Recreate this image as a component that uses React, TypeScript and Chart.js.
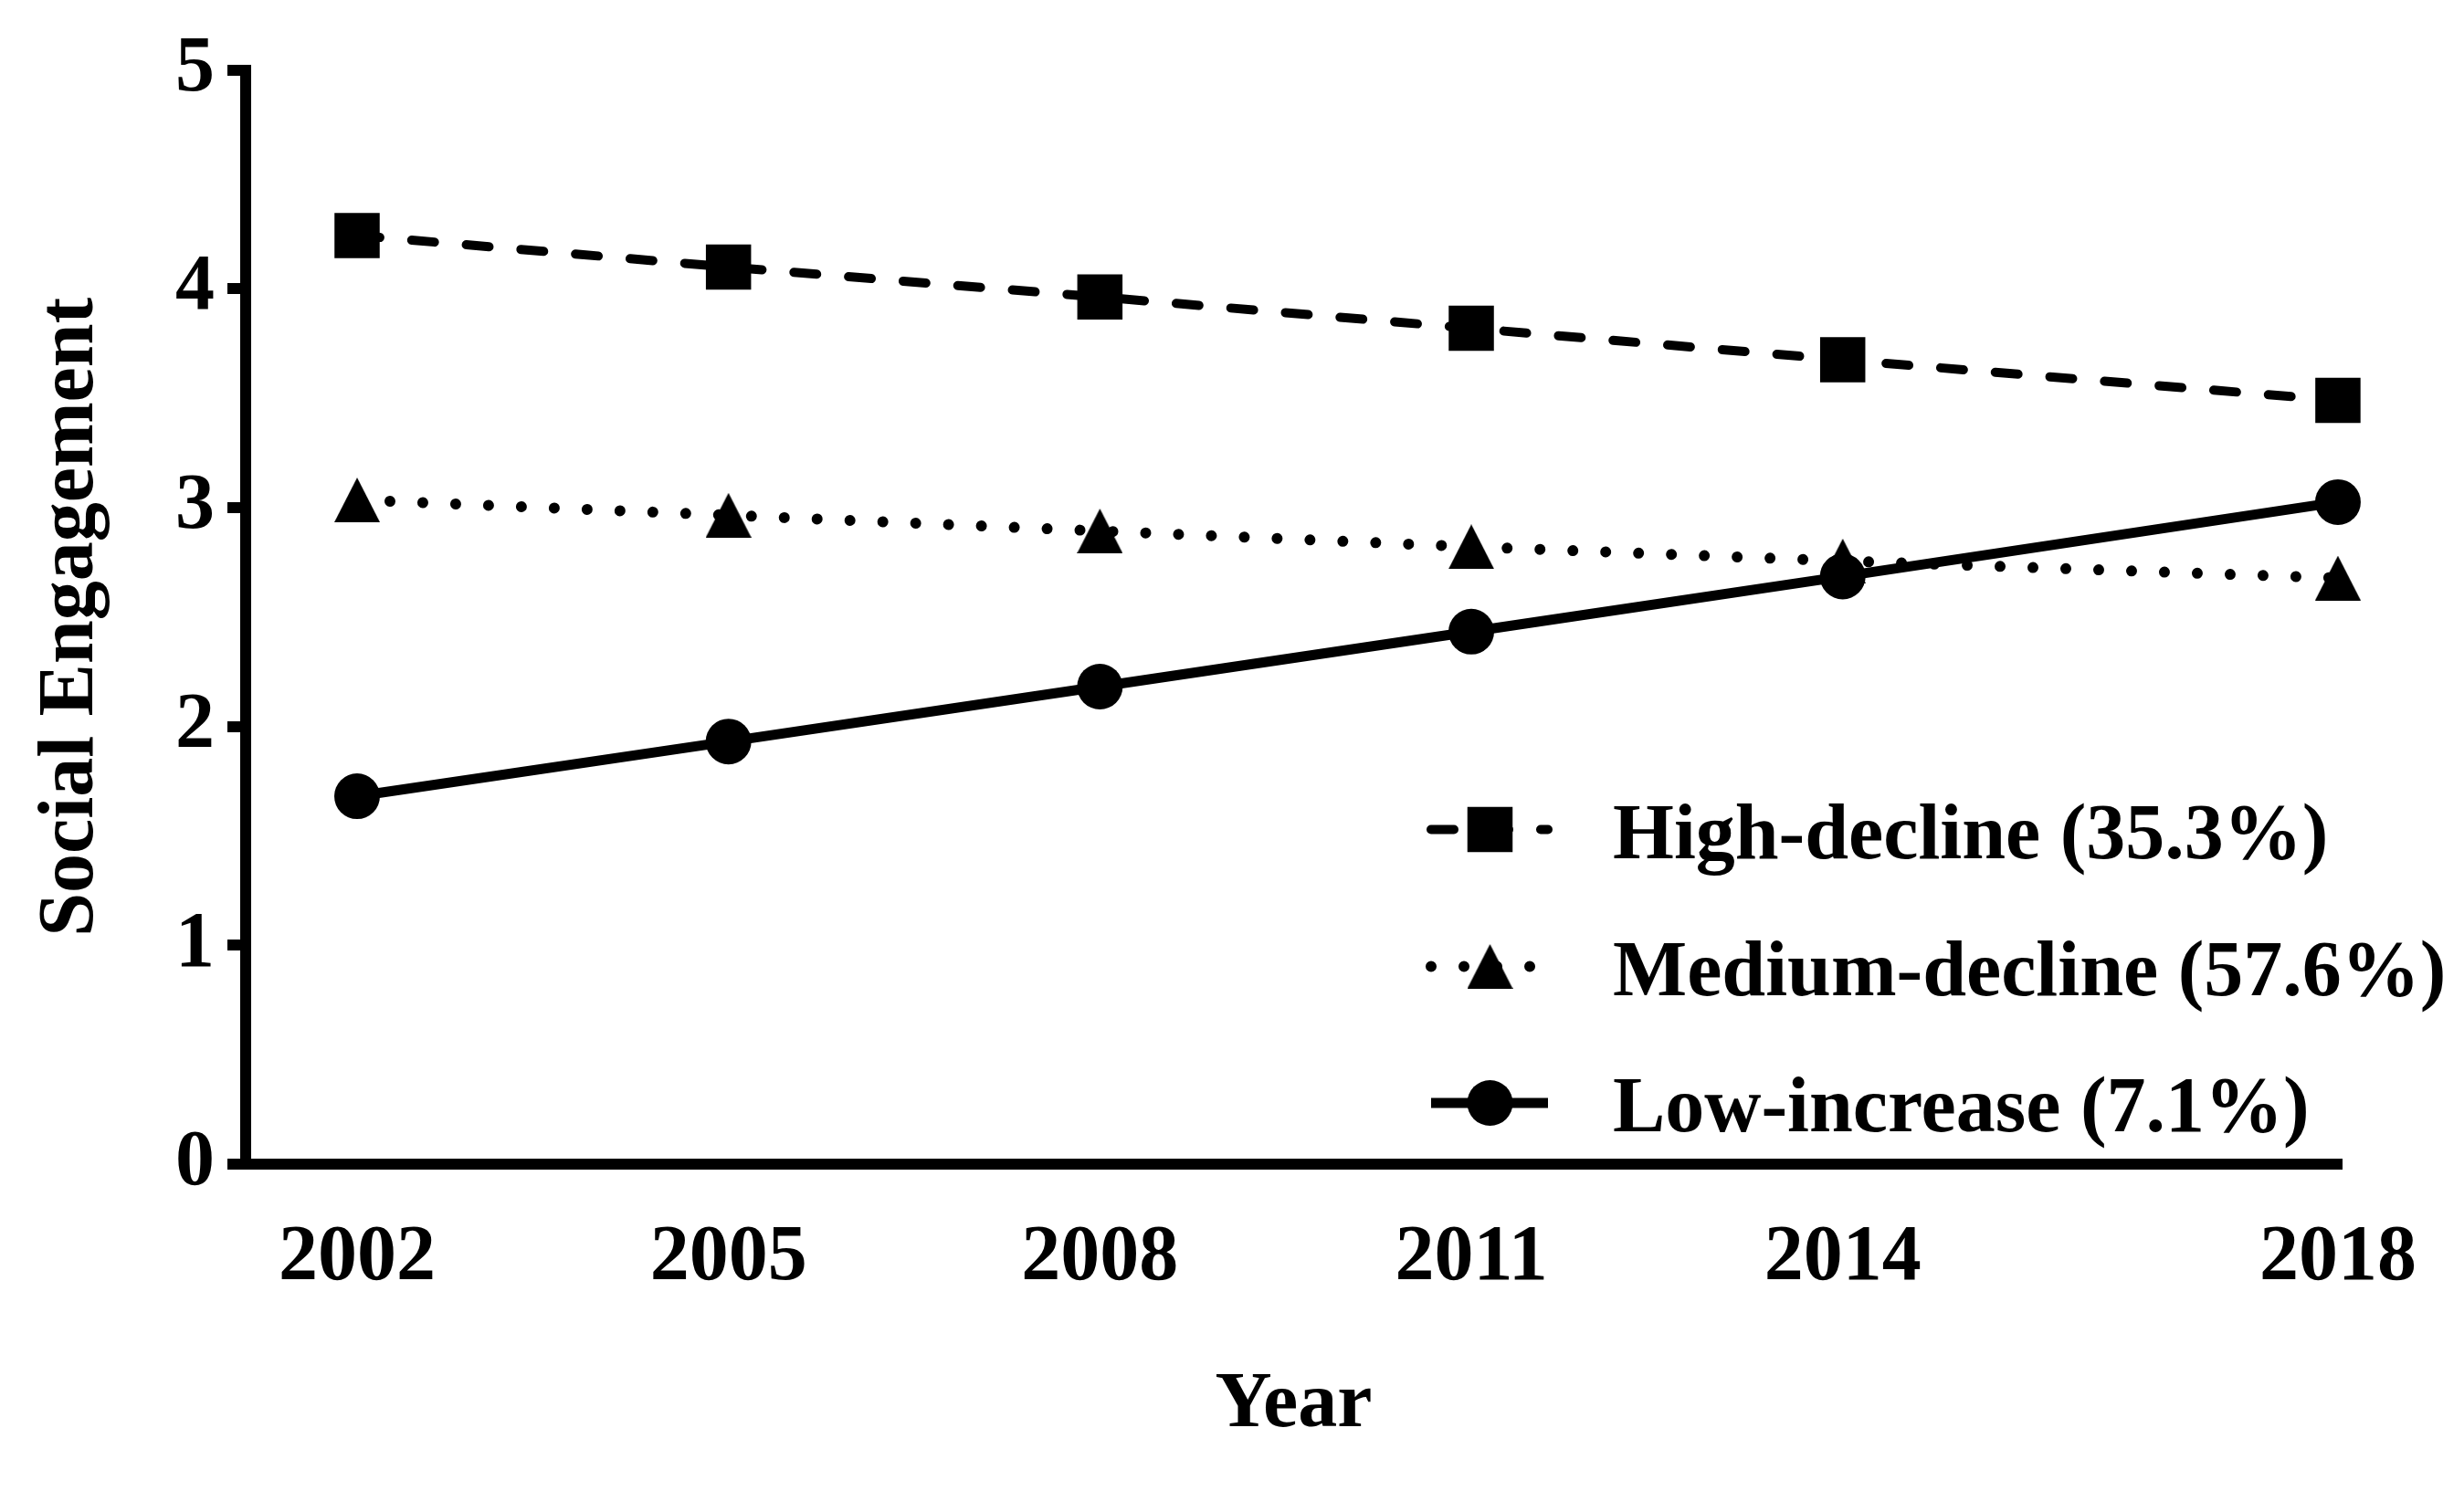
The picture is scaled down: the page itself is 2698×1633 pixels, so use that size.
import React, { useEffect, useRef } from 'react';
import { Chart, registerables } from 'chart.js';
import { drawPoint } from 'chart.js/helpers';

Chart.register(...registerables);

// ---- data ----
const years = [2002, 2005, 2008, 2011, 2014, 2018];
const highDecline = [4.243, 4.099, 3.962, 3.819, 3.675, 3.49];
const mediumDecline = [3.035, 2.965, 2.893, 2.821, 2.756, 2.678];
const lowIncrease = [1.681, 1.931, 2.182, 2.433, 2.685, 3.025];
const seriesLabels = ['High-decline (35.3%)', 'Medium-decline (57.6%)', 'Low-increase (7.1%)'];
const yTickValues = [0, 1, 2, 3, 4, 5];
const xTitle = 'Year';
const yTitle = 'Social Engagement';

const FONT = "'Liberation Serif', 'Times New Roman', Times, serif";

function makeTriangle(w: number, h: number): HTMLCanvasElement {
  const c = document.createElement('canvas');
  c.width = w;
  c.height = h;
  const g = c.getContext('2d')!;
  g.fillStyle = '#000';
  g.beginPath();
  g.moveTo(w / 2, 0);
  g.lineTo(w, h);
  g.lineTo(0, h);
  g.closePath();
  g.fill();
  return c;
}

const inlineLegend = {
  id: 'inlineLegend',
  afterDraw(chart: any) {
    const ctx = chart.ctx as CanvasRenderingContext2D;
    const lineX1 = 1567;
    const lineX2 = 1695;
    const markX = 1631.5;
    const textX = 1766;
    const rowY = [908.5, 1058.5, 1208];
    const textDy = 9;
    chart.data.datasets.forEach((ds: any, i: number) => {
      const y = rowY[i];
      ctx.save();
      ctx.strokeStyle = ds.borderColor;
      ctx.lineWidth = ds.borderWidth;
      ctx.lineCap = ds.borderCapStyle || 'butt';
      ctx.setLineDash(ds.borderDash || []);
      ctx.beginPath();
      ctx.moveTo(lineX1, y);
      ctx.lineTo(lineX2, y);
      ctx.stroke();
      ctx.setLineDash([]);
      ctx.fillStyle = ds.pointBackgroundColor;
      drawPoint(ctx, { pointStyle: ds.pointStyle, radius: ds.pointRadius, rotation: 0, borderWidth: 0 } as any, markX, y);
      ctx.fillStyle = '#000';
      ctx.font = `bold 86px ${FONT}`;
      ctx.textAlign = 'left';
      ctx.textBaseline = 'middle';
      ctx.fillText(ds.label, textX, y + textDy);
      ctx.restore();
    });
  },
};

export default function App() {
  const ref = useRef<HTMLCanvasElement | null>(null);

  useEffect(() => {
    document.body.style.margin = '0';
    const canvas = ref.current!;
    const tri = makeTriangle(50, 49);
    const toPts = (vals: number[]) => years.map((x, i) => ({ x, y: vals[i] }));

    const chart = new Chart(canvas, {
      type: 'line',
      data: {
        datasets: [
          {
            label: seriesLabels[0],
            data: toPts(highDecline),
            borderColor: '#000',
            borderWidth: 10,
            borderDash: [25, 35],
            borderCapStyle: 'round',
            pointStyle: 'rect',
            pointRadius: 35,
            pointBackgroundColor: '#000',
            pointBorderWidth: 0,
            tension: 0,
            clip: false,
          },
          {
            label: seriesLabels[1],
            data: toPts(mediumDecline),
            borderColor: '#000',
            borderWidth: 12,
            borderDash: [0.01, 36],
            borderCapStyle: 'round',
            pointStyle: tri,
            pointRadius: 25,
            pointBackgroundColor: '#000',
            pointBorderWidth: 0,
            tension: 0,
            clip: false,
          },
          {
            label: seriesLabels[2],
            data: toPts(lowIncrease),
            borderColor: '#000',
            borderWidth: 11,
            borderCapStyle: 'butt',
            pointStyle: 'circle',
            pointRadius: 25,
            pointBackgroundColor: '#000',
            pointBorderWidth: 0,
            tension: 0,
            clip: false,
          },
        ] as any,
      },
      options: {
        responsive: false,
        animation: false,
        devicePixelRatio: 1,
        layout: { padding: { top: 76.5, right: 134, left: 0, bottom: 0 } },
        plugins: {
          legend: { display: false },
          tooltip: { enabled: false },
        },
        scales: {
          x: {
            type: 'linear',
            min: 2001.1,
            max: 2018.03,
            afterBuildTicks: (s: any) => {
              s.ticks = years.map((v) => ({ value: v }));
            },
            afterFit: (s: any) => {
              s.height = 358;
            },
            grid: { display: false },
            border: { display: true, width: 12, color: '#000' },
            ticks: {
              autoSkip: false,
              maxRotation: 0,
              padding: 44,
              color: '#000',
              font: { family: FONT, size: 86, weight: 'bold' },
              callback: (v: any) => String(v),
            },
            title: {
              display: true,
              text: xTitle,
              color: '#000',
              font: { family: FONT, size: 86, weight: 'bold' },
              padding: { top: 0, bottom: 42 },
            },
          },
          y: {
            type: 'linear',
            min: 0,
            max: 5,
            afterBuildTicks: (s: any) => {
              s.ticks = yTickValues.map((v) => ({ value: v }));
            },
            afterFit: (s: any) => {
              s.width = 269;
            },
            grid: {
              display: true,
              drawOnChartArea: false,
              drawTicks: true,
              tickLength: 20,
              lineWidth: 12,
              color: '#000',
            },
            border: { display: true, width: 12, color: '#000' },
            ticks: {
              padding: 14,
              color: '#000',
              font: { family: FONT, size: 86, weight: 'bold' },
              callback: (v: any) => String(v),
            },
            title: {
              display: true,
              text: yTitle,
              color: '#000',
              font: { family: FONT, size: 86, weight: 'bold' },
              padding: { top: 27, bottom: 0 },
            },
          },
        },
      } as any,
      plugins: [inlineLegend],
    });

    return () => chart.destroy();
  }, []);

  return (
    <div style={{ width: 2698, height: 1633, background: '#fff' }}>
      <canvas ref={ref} width={2698} height={1633} style={{ display: 'block' }} />
    </div>
  );
}
